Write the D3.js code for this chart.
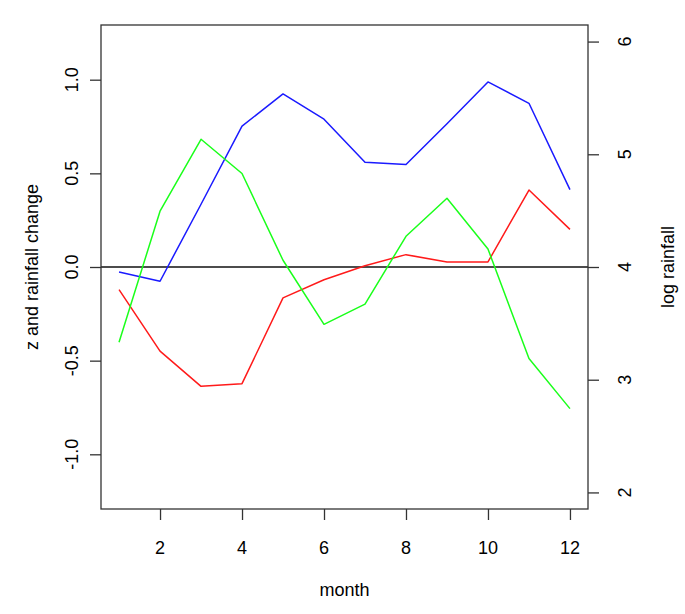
<!DOCTYPE html>
<html>
<head>
<meta charset="utf-8">
<script src="https://cdn.jsdelivr.net/npm/d3@7"></script>
<style>
  html, body { margin: 0; padding: 0; background: #fff; }
  svg { display: block; }
  text { font-family: "Liberation Sans", Arial, Helvetica, sans-serif; fill: #000; }
</style>
</head>
<body>
<svg id="chart" width="685" height="614"></svg>
<script>
// ---- data ----
const months = [1, 2, 3, 4, 5, 6, 7, 8, 9, 10, 11, 12];
const blueSeries  = [-0.027, -0.076, 0.335, 0.752, 0.924, 0.789, 0.559, 0.547, 0.765, 0.988, 0.874, 0.413];
const redSeries   = [-0.121, -0.449, -0.637, -0.623, -0.165, -0.068, 0.007, 0.066, 0.027, 0.027, 0.411, 0.201];
const greenSeries = [-0.402, 0.298, 0.682, 0.499, 0.036, -0.306, -0.198, 0.164, 0.367, 0.096, -0.489, -0.756];
const xTicks = [2, 4, 6, 8, 10, 12];
const yLeftTicks = [-1.0, -0.5, 0.0, 0.5, 1.0];
const yRightTicks = [2, 3, 4, 5, 6];

// ---- layout ----
const svg = d3.select("#chart");
const L = 101, R = 588, T = 25, B = 509;
const x = d3.scaleLinear().domain([0.56, 12.44]).range([L, R]);
const yL = d3.scaleLinear().domain([-1.292, 1.292]).range([B, T]);
const yR = d3.scaleLinear().domain([1.853, 6.147]).range([B, T]);

const axisColor = "#333";
const fs = 18;
const tick = 11;

// zero line
svg.append("line")
  .attr("x1", L).attr("x2", R)
  .attr("y1", yL(0)).attr("y2", yL(0))
  .attr("stroke", "#111").attr("stroke-width", 1.4);

// series
const line = d3.line().x((d, i) => x(months[i])).y(d => yL(d));
[[blueSeries, "#1a1aff"], [redSeries, "#ff1a1a"], [greenSeries, "#1aff1a"]].forEach(([s, c]) => {
  svg.append("path").datum(s)
    .attr("d", line)
    .attr("fill", "none")
    .attr("stroke", c)
    .attr("stroke-width", 1.5)
    .attr("stroke-linejoin", "round");
});

// box
svg.append("rect")
  .attr("x", L).attr("y", T).attr("width", R - L).attr("height", B - T)
  .attr("fill", "none").attr("stroke", axisColor).attr("stroke-width", 1.3);

// bottom axis
const gx = svg.append("g").attr("transform", `translate(0,${B})`)
  .call(d3.axisBottom(x).tickValues(xTicks).tickSize(tick).tickFormat(() => ""));
gx.select(".domain").remove();
gx.selectAll(".tick line").attr("stroke", axisColor).attr("stroke-width", 1.3);
svg.append("g").selectAll("text").data(xTicks).join("text")
  .attr("x", d => x(d)).attr("y", 548)
  .attr("text-anchor", "middle").attr("dominant-baseline", "central")
  .attr("font-size", fs)
  .text(d => d3.format("d")(d));

// left axis
const gl = svg.append("g").attr("transform", `translate(${L},0)`)
  .call(d3.axisLeft(yL).tickValues(yLeftTicks).tickSize(tick).tickFormat(() => ""));
gl.select(".domain").remove();
gl.selectAll(".tick line").attr("stroke", axisColor).attr("stroke-width", 1.3);
svg.append("g").selectAll("text").data(yLeftTicks).join("text")
  .attr("transform", d => `translate(72,${yL(d)}) rotate(-90)`)
  .attr("text-anchor", "middle").attr("dominant-baseline", "central")
  .attr("font-size", fs)
  .text(d => d3.format(".1f")(d).replace("\u2212", "-"));

// right axis
const gr = svg.append("g").attr("transform", `translate(${R},0)`)
  .call(d3.axisRight(yR).tickValues(yRightTicks).tickSize(tick).tickFormat(() => ""));
gr.select(".domain").remove();
gr.selectAll(".tick line").attr("stroke", axisColor).attr("stroke-width", 1.3);
svg.append("g").selectAll("text").data(yRightTicks).join("text")
  .attr("transform", d => `translate(625,${yR(d)}) rotate(-90)`)
  .attr("text-anchor", "middle").attr("dominant-baseline", "central")
  .attr("font-size", fs)
  .text(d => d3.format("d")(d));

// titles
svg.append("text")
  .attr("x", (L + R) / 2).attr("y", 590)
  .attr("text-anchor", "middle").attr("dominant-baseline", "central")
  .attr("font-size", fs)
  .text("month");

svg.append("text")
  .attr("transform", `translate(32,${(T + B) / 2}) rotate(-90)`)
  .attr("text-anchor", "middle").attr("dominant-baseline", "central")
  .attr("font-size", fs)
  .text("z and rainfall change");

svg.append("text")
  .attr("transform", `translate(668,${(T + B) / 2}) rotate(-90)`)
  .attr("text-anchor", "middle").attr("dominant-baseline", "central")
  .attr("font-size", fs)
  .text("log rainfall");
</script>
</body>
</html>
